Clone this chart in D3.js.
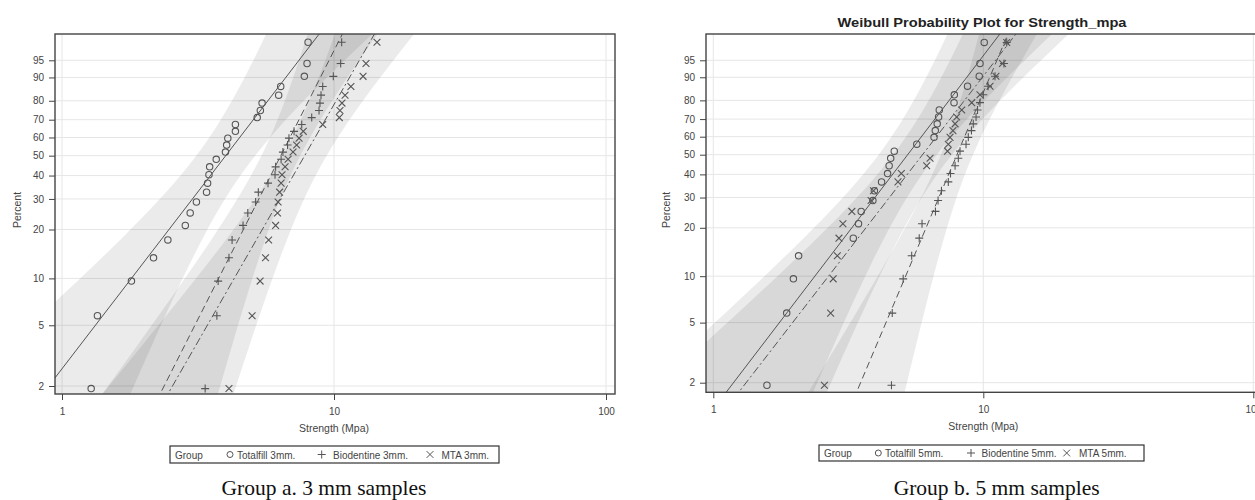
<!DOCTYPE html>
<html><head><meta charset="utf-8">
<script src="https://cdn.jsdelivr.net/npm/d3@7"></script>
<style>body{margin:0;background:#fff}svg{display:block}</style>
</head><body>
<svg id="chart" width="1255" height="500"></svg>
<script>
// ---------- data ----------
const percentTicks = [2, 5, 10, 20, 30, 40, 50, 60, 70, 80, 90, 95];
const strengthTicks = [1, 10, 100];
const groupNames3 = ["Totalfill 3mm.", "Biodentine 3mm.", "MTA 3mm."];
const groupNames5 = ["Totalfill 5mm.", "Biodentine 5mm.", "MTA 5mm."];
const totalfill3 = [1.28,1.35,1.80,2.17,2.45,2.84,2.96,3.12,3.40,3.43,3.47,3.49,3.69,3.99,4.03,4.07,4.34,4.34,5.22,5.36,5.44,6.26,6.37,7.78,7.96,8.03];
const biodentine3 = [3.36,3.71,3.75,4.11,4.22,4.63,4.82,5.15,5.27,5.72,6.07,6.10,6.39,6.49,6.75,6.83,7.13,7.61,8.28,8.81,8.88,8.96,9.09,9.94,10.58,10.67];
const mta3 = [4.11,5.00,5.35,5.60,5.75,6.10,6.20,6.23,6.31,6.39,6.44,6.61,6.78,7.07,7.29,7.44,7.71,9.09,10.46,10.52,10.70,10.98,11.54,12.79,13.11,14.39];
const totalfill5 = [1.58,1.87,1.98,2.07,3.30,3.45,3.53,3.90,3.95,4.20,4.42,4.48,4.54,4.68,5.67,6.57,6.64,6.75,6.83,6.87,7.79,7.81,8.74,9.66,9.72,10.08];
const biodentine5 = [4.57,4.60,5.05,5.43,5.79,5.93,6.65,6.80,7.00,7.42,7.56,7.86,8.08,8.20,8.63,8.80,9.04,9.18,9.40,9.52,9.72,10.00,10.41,11.05,11.93,12.21];
const mta5 = [2.58,2.72,2.78,2.88,2.92,3.02,3.26,3.84,3.92,4.83,4.97,6.17,6.35,7.37,7.42,7.53,7.72,7.86,7.97,8.32,9.06,9.72,10.59,11.14,11.78,12.21];
// fitted Weibull parameters (shape k, scale lambda)
const shape3 = [2.36, 3.58, 3.16];
const scale3 = [4.67, 7.06, 8.76];
const shape5 = [2.38, 4.30, 2.35];
const scale5 = [6.12, 8.70, 6.96];
const bandZ = 3.0;
const varCoef = [1.1087, 0.514, 0.6079];

// ---------- helpers ----------
const weib = p => Math.log(-Math.log(1 - p));
const svg = d3.select("#chart");
const sans = "'Liberation Sans', Arial, sans-serif";
const ink = "#555";

function symbolPath(type, cx, cy) {
  if (type === "plus") { const s = 4; return `M${cx-s},${cy}H${cx+s}M${cx},${cy-s}V${cy+s}`; }
  if (type === "cross") { const s = 3.4; return `M${cx-s},${cy-s}L${cx+s},${cy+s}M${cx-s},${cy+s}L${cx+s},${cy-s}`; }
  return null;
}
const symbols = ["circle", "plus", "cross"];
const dashes = [null, "7,4", "8,3,2,3"];

function drawPanel(cfg, names, series, shapes, scales) {
  const g = svg.append("g");
  const x = d3.scaleLog().domain([1, 100]).range([cfg.xOne, cfg.xHundred]);
  const y = d3.scaleLinear().domain([weib(0.02), weib(0.95)]).range([cfg.y2, cfg.y95]);
  const wBot = y.invert(cfg.bottom), wTop = y.invert(cfg.top);
  const clipId = "clip" + cfg.id;
  g.append("clipPath").attr("id", clipId).append("rect")
    .attr("x", cfg.left).attr("y", cfg.top).attr("width", cfg.right - cfg.left).attr("height", cfg.bottom - cfg.top);

  // grid
  g.append("g").selectAll("line").data(percentTicks).join("line")
    .attr("x1", cfg.left).attr("x2", cfg.right)
    .attr("y1", d => y(weib(d / 100))).attr("y2", d => y(weib(d / 100)))
    .attr("stroke", "#e6e6e6").attr("stroke-width", 1);
  g.append("g").selectAll("line").data(strengthTicks).join("line")
    .attr("x1", d => x(d)).attr("x2", d => x(d))
    .attr("y1", cfg.top).attr("y2", cfg.bottom)
    .attr("stroke", "#e6e6e6").attr("stroke-width", 1);

  const plot = g.append("g").attr("clip-path", `url(#${clipId})`);
  const ws = d3.range(wBot - 0.1, wTop + 0.1, 0.05);
  // confidence bands
  series.forEach((vals, gi) => {
    const k = shapes[gi], u = Math.log(scales[gi]), n = vals.length;
    const half = w => bandZ / (k * Math.sqrt(n)) * Math.sqrt(varCoef[0] + varCoef[1] * w + varCoef[2] * w * w);
    const upper = ws.map(w => [x(Math.exp(u + w / k + half(w))), y(w)]);
    const lower = ws.map(w => [x(Math.exp(u + w / k - half(w))), y(w)]).reverse();
    plot.append("path").attr("d", d3.line()(upper.concat(lower)) + "Z")
      .attr("fill", "#000").attr("fill-opacity", 0.08).attr("stroke", "none");
  });
  // fitted lines
  series.forEach((vals, gi) => {
    const k = shapes[gi], u = Math.log(scales[gi]);
    const pts = [wBot - 0.1, wTop + 0.1].map(w => [x(Math.exp(u + w / k)), y(w)]);
    plot.append("path").attr("d", d3.line()(pts)).attr("fill", "none")
      .attr("stroke", ink).attr("stroke-width", 1)
      .attr("stroke-dasharray", dashes[gi]);
  });
  // points
  series.forEach((vals, gi) => {
    const n = vals.length;
    const pts = vals.map((v, i) => ({ v, p: (i + 0.5) / n }));
    const grp = plot.append("g");
    if (symbols[gi] === "circle") {
      grp.selectAll("circle").data(pts).join("circle")
        .attr("cx", d => x(d.v)).attr("cy", d => y(weib(d.p))).attr("r", 3.2)
        .attr("fill", "none").attr("stroke", ink).attr("stroke-width", 1.1);
    } else {
      grp.selectAll("path").data(pts).join("path")
        .attr("d", d => symbolPath(symbols[gi], x(d.v), y(weib(d.p))))
        .attr("fill", "none").attr("stroke", ink).attr("stroke-width", 1.1);
    }
  });

  // frame
  g.append("rect").attr("x", cfg.left).attr("y", cfg.top)
    .attr("width", cfg.right - cfg.left).attr("height", cfg.bottom - cfg.top)
    .attr("fill", "none").attr("stroke", "#444").attr("stroke-width", 1.4);

  // axes
  const ya = g.append("g").attr("transform", `translate(${cfg.left},0)`)
    .call(d3.axisLeft(y).tickValues(percentTicks.map(p => weib(p / 100)))
      .tickFormat((d, i) => percentTicks[i]).tickSize(6).tickPadding(5));
  ya.select(".domain").remove();
  ya.selectAll("line").attr("stroke", "#444");
  ya.selectAll("text").attr("font-family", sans).attr("font-size", 10).attr("fill", "#444");
  const xa = g.append("g").attr("transform", `translate(0,${cfg.bottom})`)
    .call(d3.axisBottom(x).tickValues(strengthTicks).tickFormat(d3.format("d")).tickSize(6).tickPadding(8));
  xa.select(".domain").remove();
  xa.selectAll("line").attr("stroke", "#444");
  xa.selectAll("text").attr("font-family", sans).attr("font-size", 10).attr("fill", "#444");

  // axis titles
  g.append("text").attr("transform", `translate(${cfg.ylabX},210) rotate(-90)`)
    .attr("text-anchor", "middle").attr("font-family", sans).attr("font-size", 10.5)
    .attr("fill", "#444").text("Percent");
  g.append("text").attr("x", x(10)).attr("y", cfg.xlabY).attr("text-anchor", "middle")
    .attr("font-family", sans).attr("font-size", 10.5).attr("fill", "#444").text("Strength (Mpa)");

  // legend
  const L = cfg.legend;
  const lg = g.append("g");
  lg.append("rect").attr("x", L.x0).attr("y", L.y0).attr("width", L.x1 - L.x0).attr("height", L.y1 - L.y0)
    .attr("fill", "#fff").attr("stroke", "#333").attr("stroke-width", 1.2);
  const ty = L.y1 - 4.5, my = (L.y0 + L.y1) / 2;
  lg.append("text").attr("x", L.group).attr("y", ty).attr("font-family", sans).attr("font-size", 10)
    .attr("fill", "#444").text("Group");
  names.forEach((nm, gi) => {
    const mx = L.marks[gi];
    if (symbols[gi] === "circle") {
      lg.append("circle").attr("cx", mx).attr("cy", my).attr("r", 3).attr("fill", "none").attr("stroke", ink);
    } else {
      lg.append("path").attr("d", symbolPath(symbols[gi], mx, my)).attr("fill", "none").attr("stroke", ink);
    }
    lg.append("text").attr("x", L.texts[gi]).attr("y", ty).attr("font-family", sans).attr("font-size", 10)
      .attr("fill", "#444").text(nm);
  });

  // caption
  g.append("text").attr("x", cfg.capX).attr("y", 495).attr("text-anchor", "middle")
    .attr("font-family", "'Liberation Serif', 'Times New Roman', serif").attr("font-size", 21.5)
    .attr("fill", "#111").text(cfg.caption);
}

drawPanel({ id: "a", left: 55, right: 615, top: 34, bottom: 394, xOne: 62, xHundred: 606, y2: 386, y95: 60.3,
  ylabX: 20.5, xlabY: 432, capX: 324, caption: "Group a. 3 mm samples",
  legend: { x0: 170, x1: 499, y0: 446, y1: 463, group: 175, marks: [230, 321.7, 430], texts: [237, 333, 441.5] } },
  groupNames3, [totalfill3, biodentine3, mta3], shape3, scale3);

drawPanel({ id: "b", left: 706, right: 1262, top: 34, bottom: 392.3, xOne: 713.3, xHundred: 1253.3, y2: 382.7, y95: 60.3,
  ylabX: 670, xlabY: 430, capX: 996.7, caption: "Group b. 5 mm samples",
  legend: { x0: 819, x1: 1144, y0: 445, y1: 461, group: 824, marks: [878.3, 971, 1066.7], texts: [885, 981.5, 1079] } },
  groupNames5, [totalfill5, biodentine5, mta5], shape5, scale5);

svg.append("text").attr("x", 982).attr("y", 27).attr("text-anchor", "middle")
  .attr("font-family", sans).attr("font-weight", "bold").attr("font-size", 13)
  .attr("textLength", 289).attr("lengthAdjust", "spacingAndGlyphs")
  .attr("fill", "#222").text("Weibull Probability Plot for Strength_mpa");
</script>
</body></html>
